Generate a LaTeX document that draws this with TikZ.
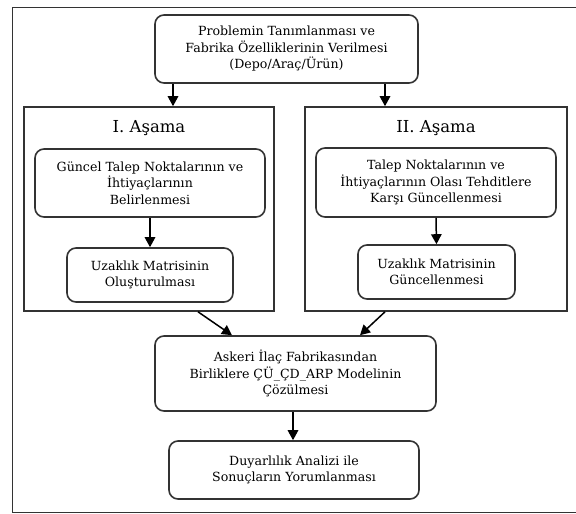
\documentclass[tikz,border=0pt]{standalone}
\usepackage{fontspec}
\setmainfont{DejaVu Serif}
\usetikzlibrary{arrows.meta}
\definecolor{linec}{HTML}{333333}
\tikzset{
  x=1pt, y=-1pt,
  rbox/.style={draw=linec, line width=1.6pt, rounded corners=9pt, align=center,
    inner sep=0pt, font=\fontsize{12.6}{16.5}\selectfont},
  gbox/.style={draw=linec, line width=1.6pt, inner sep=0pt},
  gtitle/.style={font=\fontsize{16.5}{20}\selectfont, inner sep=0pt},
  arr/.style={draw=black, line width=1.5pt, -{Triangle[length=10pt,width=10.5pt]}}
}
\begin{document}
\begin{tikzpicture}
\useasboundingbox (0,0) rectangle (576,514);
\draw[linec, line width=1.6pt] (12.5,7.5) rectangle (600,512.5);

\node[rbox, minimum width=263pt, minimum height=68pt] (top) at (286.5,49)
  {Problemin Tanımlanması ve\\Fabrika Özelliklerinin Verilmesi\\(Depo/Araç/Ürün)};

\node[gbox, minimum width=250pt, minimum height=204pt] (g1) at (149,209) {};
\node[gbox, minimum width=262pt, minimum height=204pt] (g2) at (436,209) {};
\node[gtitle] (t1) at (149,128) {I. Aşama};
\node[gtitle] (t2) at (436,128) {II. Aşama};

\node[rbox, minimum width=230pt, minimum height=68pt] (l1) at (150,183)
  {Güncel Talep Noktalarının ve\\İhtiyaçlarının\\Belirlenmesi};
\node[rbox, minimum width=166pt, minimum height=54pt] (l2) at (150,275)
  {Uzaklık Matrisinin\\Oluşturulması};
\node[rbox, minimum width=240pt, minimum height=69pt] (r1) at (436,182.5)
  {Talep Noktalarının ve\\İhtiyaçlarının Olası Tehditlere\\Karşı Güncellenmesi};
\node[rbox, minimum width=157pt, minimum height=54pt] (r2) at (436.5,272)
  {Uzaklık Matrisinin\\Güncellenmesi};

\node[rbox, minimum width=281pt, minimum height=75pt] (c) at (295.5,373.5)
  {Askeri İlaç Fabrikasından\\Birliklere ÇÜ\_ÇD\_ARP Modelinin\\Çözülmesi};
\node[rbox, minimum width=250pt, minimum height=58pt] (b) at (294,470)
  {Duyarlılık Analizi ile\\Sonuçların Yorumlanması};

\coordinate (xa) at (173,0);
\coordinate (xb) at (385,0);
\coordinate (xc) at (198,0);
\coordinate (xd) at (232,0);
\coordinate (xe) at (385,0);
\coordinate (xf) at (360,0);
\coordinate (xg) at (293,0);

\draw[arr] (top.south -| xa) -- (g1.north -| xa);
\draw[arr] (top.south -| xb) -- (g2.north -| xb);
\draw[arr] (l1.south) -- (l2.north);
\draw[arr] (r1.south) -- (r2.north);
\draw[arr] (g1.south -| xc) -- (c.north -| xd);
\draw[arr] (g2.south -| xe) -- (c.north -| xf);
\draw[arr] (c.south -| xg) -- (b.north -| xg);
\end{tikzpicture}
\end{document}
